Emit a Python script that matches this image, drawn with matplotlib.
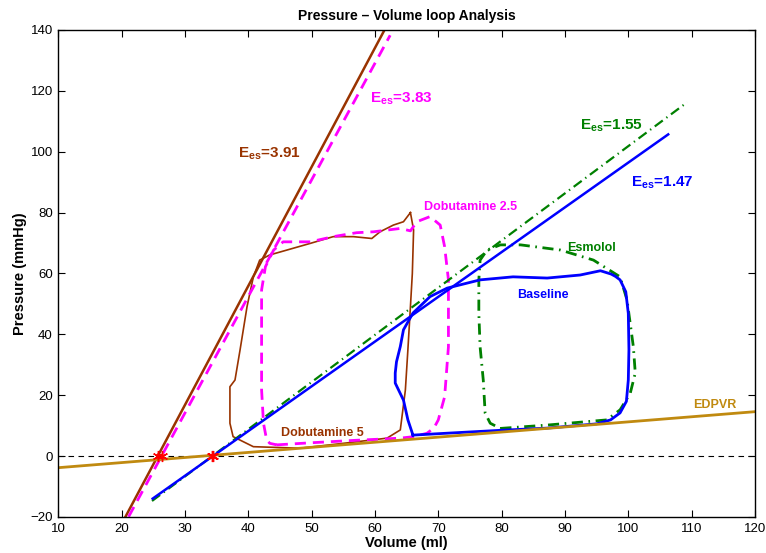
import matplotlib
matplotlib.use("Agg")
import matplotlib.pyplot as plt

plt.rcParams['font.family'] = ['Liberation Sans', 'DejaVu Sans']
plt.rcParams['mathtext.fontset'] = 'custom'
plt.rcParams['mathtext.rm'] = 'Liberation Sans'
plt.rcParams['mathtext.bf'] = 'Liberation Sans:bold'
plt.rcParams['lines.solid_joinstyle'] = 'round'
plt.rcParams['lines.dash_joinstyle'] = 'round'

# end-systolic elastance lines: slope, intercept volume, volume range
es_names = ['Dobutamine 5', 'Dobutamine 2.5', 'Esmolol', 'Baseline']
es_vals = [3.91, 3.83, 1.55, 1.47]
es_v0 = [25.7, 26.3, 34.3, 34.4]
es_vmin = [20.6, 21.1, 24.8, 24.9]
es_vmax = [61.5, 62.4, 109.3, 106.3]

# end-diastolic pressure-volume relation
edpvr_v = [10, 120]
edpvr_p = [-3.8, 14.6]

# pressure-volume loops
base_v = [66.0, 72.0, 80.0, 87.2, 95.0, 97.2, 98.7, 99.7, 100.0, 100.1, 100.0,
          99.6, 98.7, 98.0, 97.3, 95.6, 92.4, 87.2, 81.8, 76.6, 71.4, 68.7,
          66.0, 64.5, 64.0, 63.4, 63.2, 63.2, 64.5, 65.2, 66.0]
base_p = [6.9, 7.6, 8.5, 9.2, 10.6, 11.9, 14.2, 18.0, 25.0, 35.0, 46.9,
          54.0, 57.9, 59.0, 59.8, 60.9, 59.5, 58.5, 58.9, 57.9, 55.2, 52.4,
          47.0, 41.5, 36.0, 31.0, 27.3, 24.0, 18.4, 11.9, 6.9]

esm_v = [79.8, 87.2, 96.6, 98.7, 100.3, 101.1, 100.8, 99.8, 98.7, 94.5, 89.3,
         83.0, 79.8, 77.7, 76.6, 76.4, 76.4, 76.6, 77.1, 77.4, 78.2, 79.8]
esm_p = [9.1, 10.2, 11.9, 15.2, 20.6, 27.3, 35.9, 51.3, 58.9, 64.4, 67.7,
         69.4, 69.4, 67.7, 64.4, 57.9, 46.9, 35.9, 25.0, 14.1, 10.8, 9.1]

dob25_v = [44.5, 50.0, 57.0, 64.0, 66.1, 68.2, 69.3, 70.0, 71.0, 71.6, 71.6,
           71.0, 70.3, 68.7, 66.6, 65.6, 64.0, 59.8, 57.1, 53.4, 49.8, 45.5,
           44.0, 42.7, 42.1, 42.1, 42.4, 42.9, 43.4, 44.5]
dob25_p = [3.7, 4.4, 5.2, 5.9, 6.4, 7.5, 9.2, 11.9, 19.5, 35.9, 57.9,
           68.8, 75.9, 78.7, 77.0, 74.0, 74.8, 73.7, 73.4, 72.1, 70.4, 70.4,
           67.7, 62.2, 54.6, 21.7, 10.8, 5.3, 4.2, 3.7]

dob5_v = [65.6, 66.1, 65.9, 65.6, 65.2, 64.8, 64.0, 61.9, 55.0, 48.2, 40.8,
          37.6, 37.1, 37.1, 37.9, 38.7, 39.8, 40.8, 41.8, 43.4, 46.1, 49.8,
          53.4, 56.6, 59.5, 60.8, 62.9, 64.5, 65.6]
dob5_p = [80.0, 74.3, 60.0, 49.1, 35.0, 21.7, 8.6, 5.9, 4.2, 2.6, 3.1,
          6.4, 10.8, 22.8, 25.0, 34.9, 49.1, 58.9, 64.4, 66.1, 67.7, 69.9,
          72.1, 72.1, 71.5, 73.7, 75.9, 77.0, 80.0]

brown = '#993300'
gold = '#C08A10'
magenta = '#FF00FF'
green = '#008000'
blue = '#0000FF'

fig = plt.figure(figsize=(7.66, 5.53), dpi=100)
ax = fig.add_axes([0.0761, 0.0651, 0.9095, 0.8807])

# zero pressure reference
ax.axhline(0, color='black', lw=0.8, dashes=(5, 4))

# loops
ax.plot(dob5_v, dob5_p, color=brown, lw=1.2)
ax.plot(dob25_v, dob25_p, color=magenta, lw=2, dashes=(4, 2.5))
ax.plot(esm_v, esm_p, color=green, lw=2, dashes=(4, 2, 0.6, 2))
ax.plot(base_v, base_p, color=blue, lw=2)

# ESPVR lines
line_styles = [
    dict(color=brown, lw=1.8),
    dict(color=magenta, lw=2, dashes=(4, 2.5)),
    dict(color=green, lw=1.6, dashes=(4.5, 2, 0.6, 2)),
    dict(color=blue, lw=1.8),
]
for es, v0, vmin, vmax, st in zip(es_vals, es_v0, es_vmin, es_vmax, line_styles):
    vv = [vmin, vmax]
    pp = [es * (v - v0) for v in vv]
    ax.plot(vv, pp, **st)

ax.plot(edpvr_v, edpvr_p, color=gold, lw=2)

# V0 markers
ax.plot(es_v0, [0] * len(es_v0), linestyle='none', marker=(6, 2, 0),
        color='red', markersize=8, markeredgewidth=1)

# elastance labels
es_label_pos = [(38.4, 98.2), (59.2, 116.4), (92.4, 107.4), (100.4, 88.7)]
es_colors = [brown, magenta, green, blue]
for es, (x, y), c in zip(es_vals, es_label_pos, es_colors):
    ax.text(x, y, r'$\mathbf{E}_{\mathbf{es}}$' + '=%.2f' % es, color=c,
            fontsize=11, fontweight='bold', va='baseline', ha='left')

ax.text(67.8, 80.9, 'Dobutamine 2.5', color=magenta, fontsize=9,
        fontweight='bold', va='baseline')
ax.text(90.4, 67.4, 'Esmolol', color=green, fontsize=9,
        fontweight='bold', va='baseline')
ax.text(82.4, 51.8, 'Baseline', color=blue, fontsize=9,
        fontweight='bold', va='baseline')
ax.text(45.2, 6.7, 'Dobutamine 5', color=brown, fontsize=9,
        fontweight='bold', va='baseline')
ax.text(110.3, 15.7, 'EDPVR', color=gold, fontsize=9,
        fontweight='bold', va='baseline')

ax.set_xlim(10, 120)
ax.set_ylim(-20, 140)
ax.set_xticks(range(10, 121, 10))
ax.set_yticks(range(-20, 141, 20))
ax.tick_params(direction='in', top=True, right=True, length=5,
               labelsize=9.5, pad=4)
for s in ax.spines.values():
    s.set_linewidth(1.0)

ax.set_xlabel('Volume (ml)', fontsize=10.5, fontweight='bold', labelpad=1)
ax.set_ylabel('Pressure (mmHg)', fontsize=10.5, fontweight='bold', labelpad=2)
ax.set_title('Pressure \u2013 Volume loop Analysis', fontsize=10,
             fontweight='bold', pad=7)

fig.savefig('out.png', dpi=100)
